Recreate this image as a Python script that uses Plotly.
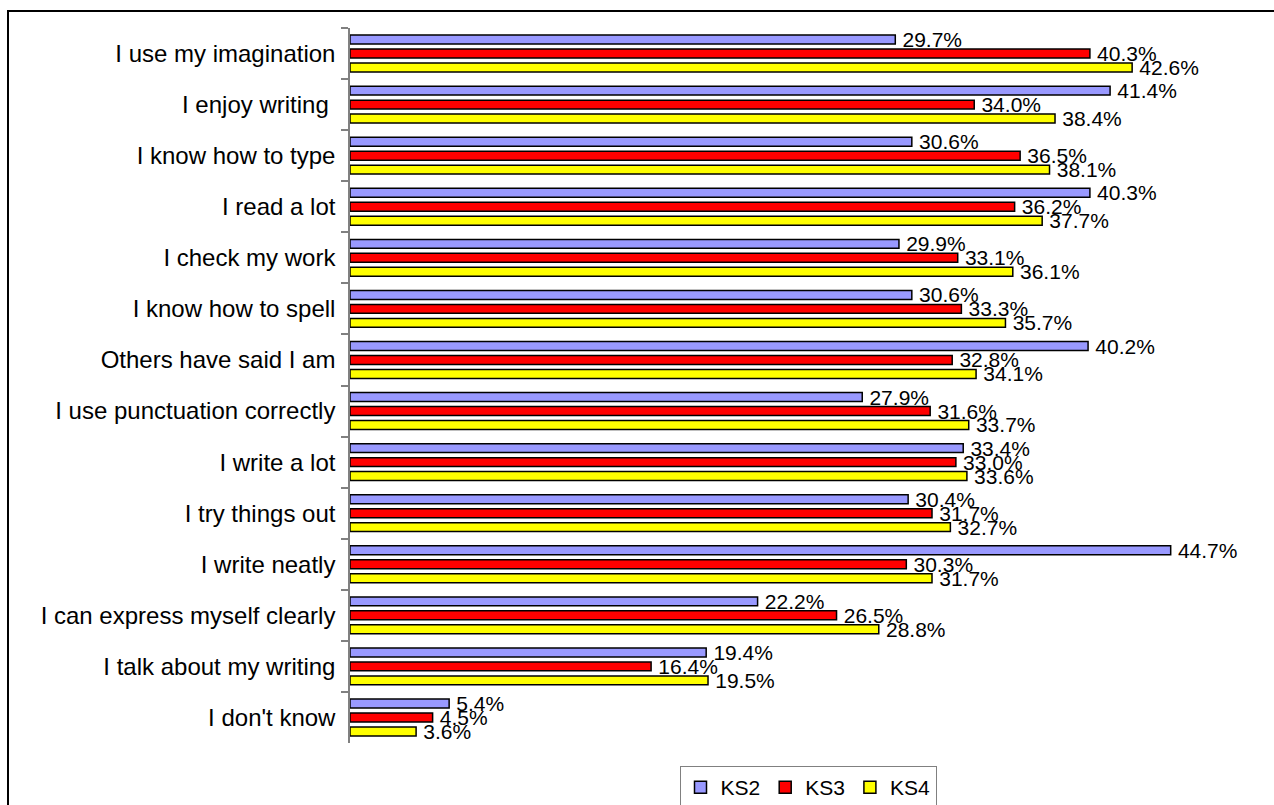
import plotly.graph_objects as go

categories = [
    "I use my imagination",
    "I enjoy writing\u00a0",
    "I know how to type",
    "I read a lot",
    "I check my work",
    "I know how to spell",
    "Others have said I am",
    "I use punctuation correctly",
    "I write a lot",
    "I try things out",
    "I write neatly",
    "I can express myself clearly",
    "I talk about my writing",
    "I don't know",
]
ks2 = [29.7, 41.4, 30.6, 40.3, 29.9, 30.6, 40.2, 27.9, 33.4, 30.4, 44.7, 22.2, 19.4, 5.4]
ks3 = [40.3, 34.0, 36.5, 36.2, 33.1, 33.3, 32.8, 31.6, 33.0, 31.7, 30.3, 26.5, 16.4, 4.5]
ks4 = [42.6, 38.4, 38.1, 37.7, 36.1, 35.7, 34.1, 33.7, 33.6, 32.7, 31.7, 28.8, 19.5, 3.6]
series_names = ["KS2", "KS3", "KS4"]
series_colors = ["#9999FF", "#FF0000", "#FFFF00"]

FONT = "Arial, 'Liberation Sans', sans-serif"

# plot area in pixels
W, H = 1274, 805
L, R, T, B = 350, 1268, 28, 743
pw, ph = R - L, B - T

def px_x(x):
    return (x - L) / pw

def px_y(y):
    return (B - y) / ph

fig = go.Figure()
for name, vals, col in zip(series_names, [ks2, ks3, ks4], series_colors):
    fig.add_trace(go.Bar(
        y=categories, x=vals, name=name, orientation="h",
        marker=dict(color=col, line=dict(color="black", width=1.5)),
        text=[f"\u2009{v:.1f}%" for v in vals],
        textposition="outside",
        constraintext="none",
        cliponaxis=False,
        textfont=dict(family=FONT, size=21, color="black"),
        hoverinfo="skip",
    ))

fig.update_layout(
    width=W, height=H,
    margin=dict(l=L, r=W - R, t=T, b=H - B, autoexpand=False),
    barmode="group",
    bargap=0.18,
    bargroupgap=0.36,
    plot_bgcolor="white",
    paper_bgcolor="white",
    font=dict(family=FONT, color="black"),
    showlegend=True,
    legend=dict(
        orientation="h",
        xref="container", yref="container",
        x=808 / W, xanchor="center",
        y=1 - 766 / H, yanchor="top",
        bordercolor="#808080", borderwidth=1,
        font=dict(family=FONT, size=21, color="black"),
        itemwidth=30,
        tracegroupgap=0,
    ),
    xaxis=dict(range=[0, 50], visible=False, fixedrange=True),
    yaxis=dict(
        autorange="reversed",
        showline=True, linecolor="#808080", linewidth=1.5,
        ticks="outside", tickson="boundaries", ticklen=7, tickcolor="#808080", tickwidth=1.5,
        tickfont=dict(family=FONT, size=24, color="black"),
        showgrid=False,
        ticklabelstandoff=8,
        fixedrange=True,
        automargin=False,
    ),
    shapes=[
        dict(type="rect", xref="paper", yref="paper",
             x0=px_x(8), x1=px_x(1290), y0=px_y(830), y1=px_y(11),
             line=dict(color="black", width=2), fillcolor="rgba(0,0,0,0)", layer="above"),
    ],
    annotations=[
        dict(text="<b>Figure 11: Reasons why young people think they are good at writing by key stage</b>",
             xref="paper", yref="paper", x=px_x(0), y=px_y(-9.5),
             xanchor="left", yanchor="middle", showarrow=False,
             font=dict(family=FONT, size=17, color="black")),
    ],
)

fig.write_html("out.html", config={"displayModeBar": False})

# remove the default page margin so the figure sits at the window's top-left corner
with open("out.html", "r", encoding="utf-8") as f:
    html = f.read()
html = html.replace("<head>", "<head><style>html,body{margin:0;padding:0;overflow:hidden;}</style>", 1)
with open("out.html", "w", encoding="utf-8") as f:
    f.write(html)
